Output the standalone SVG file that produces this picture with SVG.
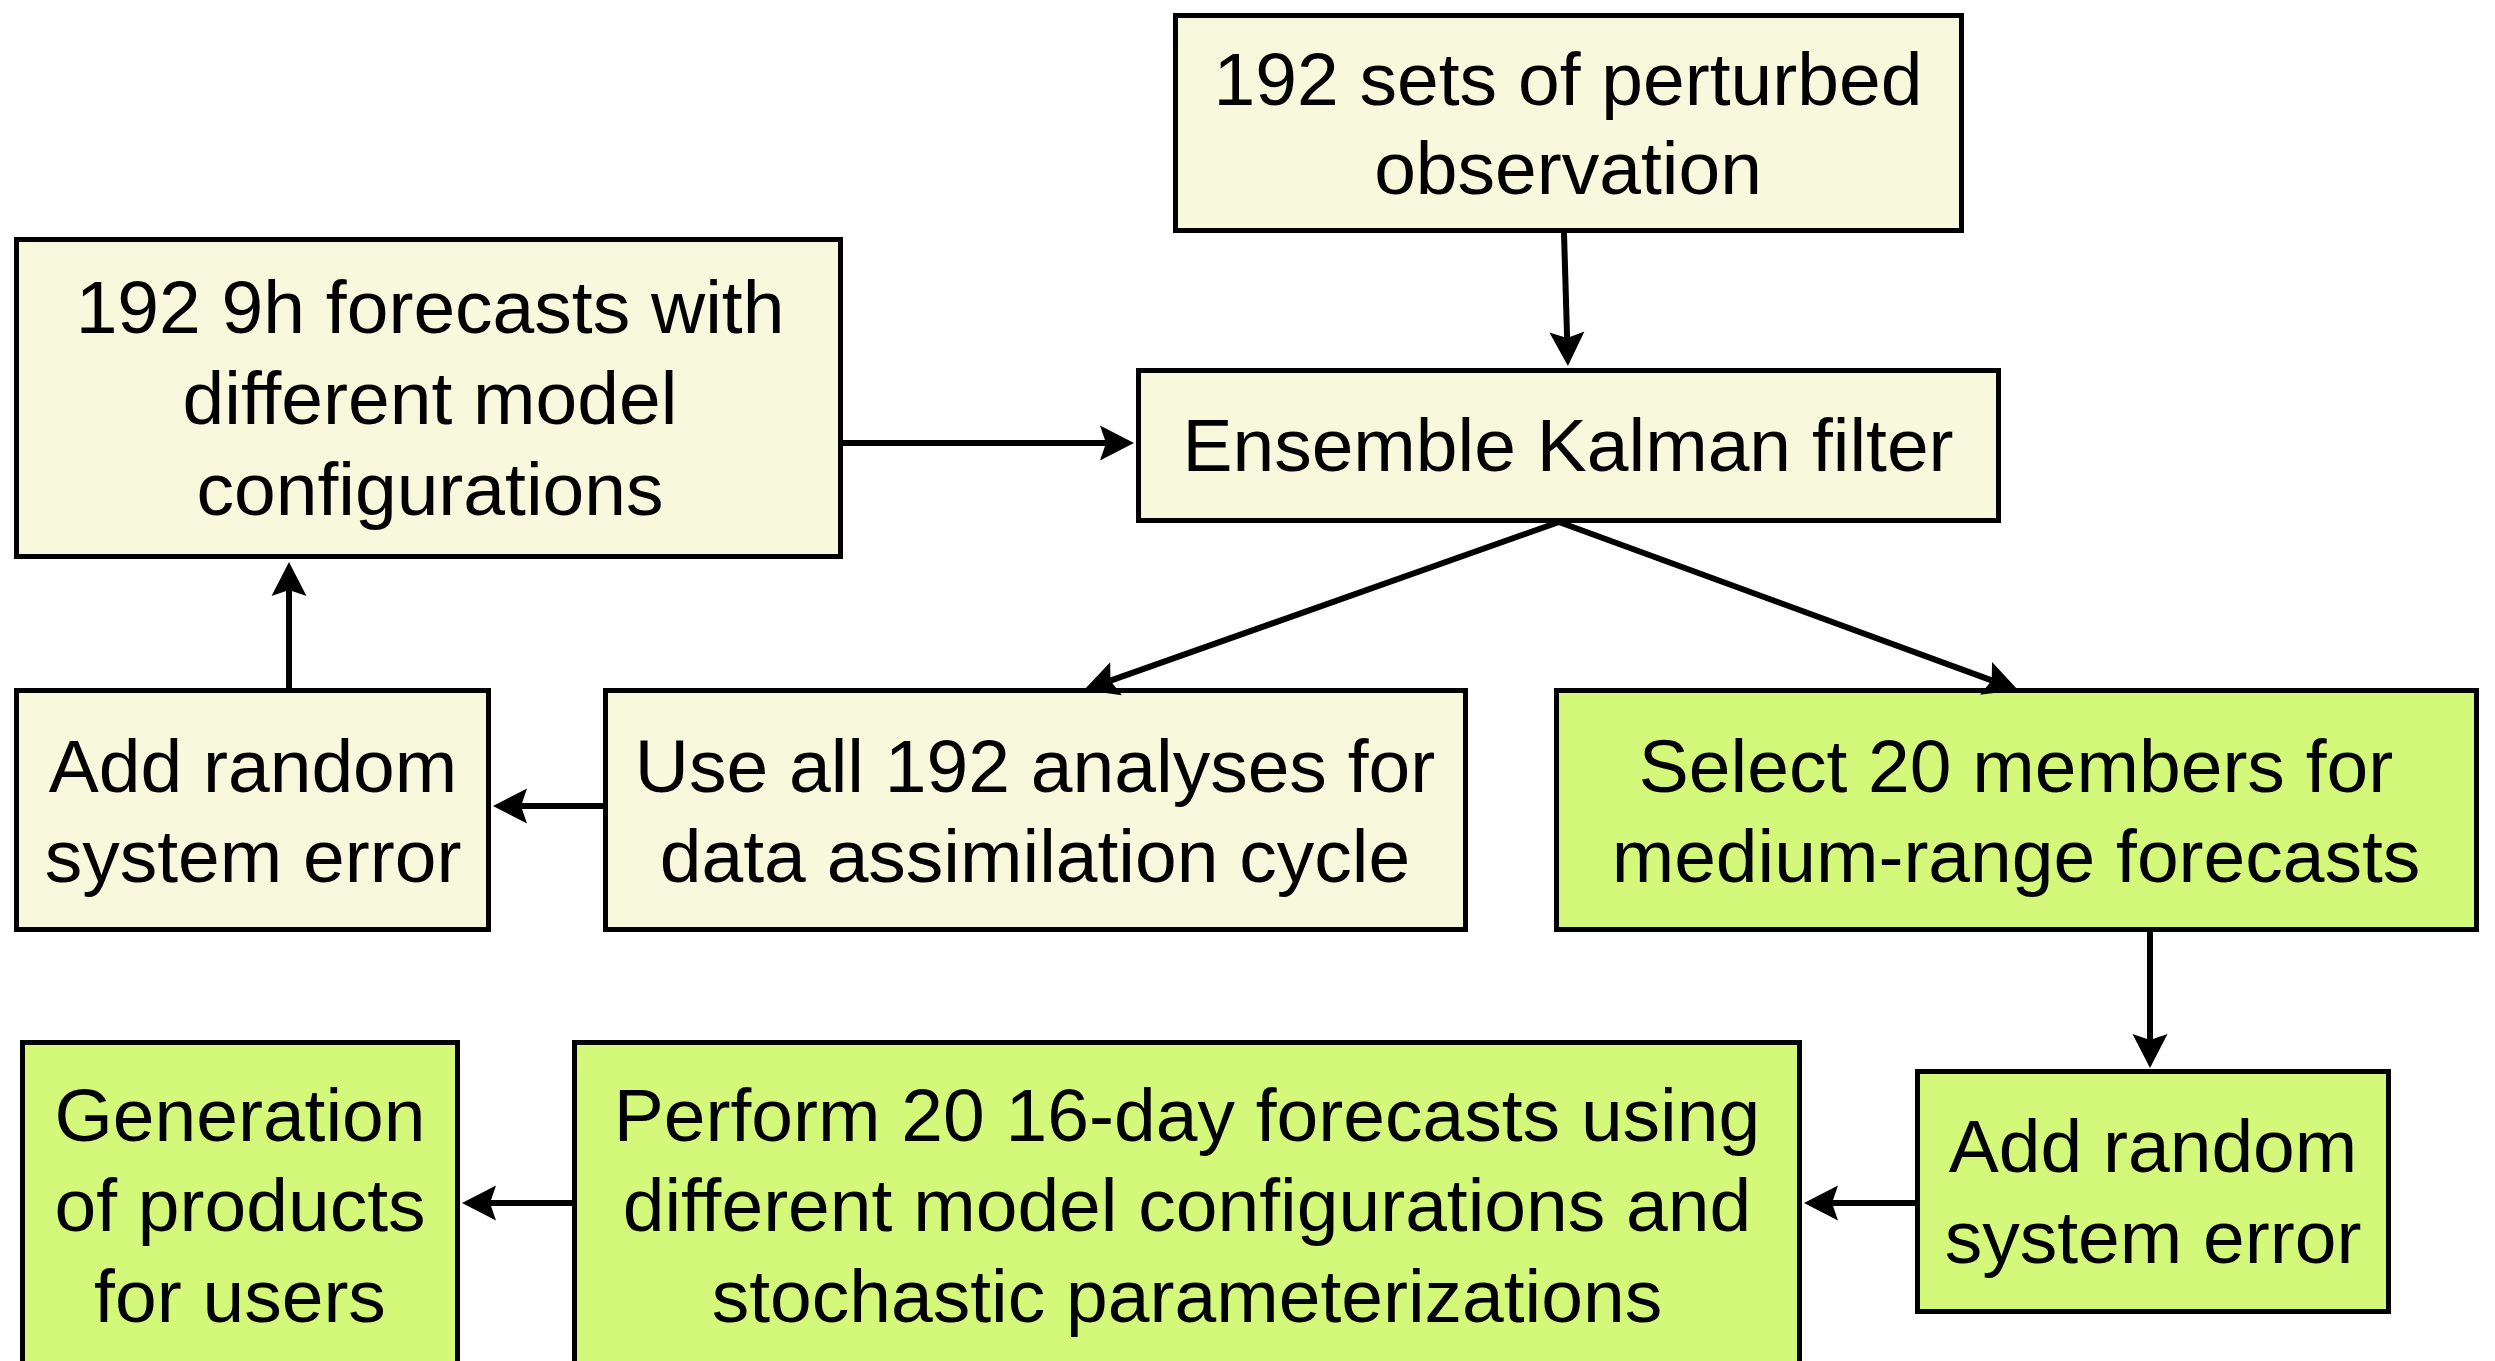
<svg xmlns="http://www.w3.org/2000/svg" width="2495" height="1361" viewBox="0 0 2495 1361">
<defs>
<style>
.box{stroke:#000;stroke-width:5}
.cream{fill:#F7F8DC}
.green{fill:#D4F97A}
.t{font-family:"Liberation Sans",Arial,Helvetica,sans-serif;font-size:75px;fill:#000;text-anchor:middle}
.c{stroke:#000;stroke-width:6;fill:none;marker-end:url(#ah)}
</style>
<marker id="ah" viewBox="0 0 34 36" markerWidth="34" markerHeight="36" refX="6" refY="18" orient="auto" markerUnits="userSpaceOnUse" overflow="visible">
<path d="M0,0.5 L34,18 L0,35.5 L6,18 Z" fill="#000"/>
</marker>
</defs>
<rect x="0" y="0" width="2495" height="1361" fill="#fff"/>

<g id="n-perturbed-obs">
<rect class="box cream" x="1175.5" y="15.5" width="786" height="215"/>
<text class="t" x="1568" y="105">192 sets of perturbed</text>
<text class="t" x="1568" y="194">observation</text>
</g>

<g id="n-9h-forecasts">
<rect class="box cream" x="16.5" y="239.5" width="824" height="317"/>
<text class="t" x="430" y="333">192 9h forecasts with</text>
<text class="t" x="430" y="424">different model</text>
<text class="t" x="430" y="515">configurations</text>
</g>

<g id="n-enkf">
<rect class="box cream" x="1138.5" y="370.5" width="860" height="150"/>
<text class="t" x="1568" y="471">Ensemble Kalman filter</text>
</g>

<g id="n-add-error-left">
<rect class="box cream" x="16.5" y="690.5" width="472" height="239"/>
<text class="t" x="253" y="792">Add random</text>
<text class="t" x="253" y="882">system error</text>
</g>

<g id="n-use-all">
<rect class="box cream" x="605.5" y="690.5" width="860" height="239"/>
<text class="t" x="1035" y="792">Use all 192 analyses for</text>
<text class="t" x="1035" y="882">data assimilation cycle</text>
</g>

<g id="n-select-20">
<rect class="box green" x="1556.5" y="690.5" width="920" height="239"/>
<text class="t" x="2016" y="792">Select 20 members for</text>
<text class="t" x="2016" y="882">medium-range forecasts</text>
</g>

<g id="n-add-error-right">
<rect class="box green" x="1917.5" y="1071.5" width="471" height="240"/>
<text class="t" x="2153" y="1172">Add random</text>
<text class="t" x="2153" y="1263">system error</text>
</g>

<g id="n-perform-20">
<rect class="box green" x="574.5" y="1042.5" width="1225" height="400"/>
<text class="t" x="1187" y="1141">Perform 20 16-day forecasts using</text>
<text class="t" x="1187" y="1231">different model configurations and</text>
<text class="t" x="1187" y="1322">stochastic parameterizations</text>
</g>

<g id="n-products">
<rect class="box green" x="22.5" y="1042.5" width="435" height="400"/>
<text class="t" x="240" y="1141">Generation</text>
<text class="t" x="240" y="1231">of products</text>
<text class="t" x="240" y="1322">for users</text>
</g>

<g id="connectors">
<path class="c" d="M1564,233 L1567.1,338"/>
<path class="c" d="M843,443 L1106,443"/>
<path class="c" d="M1559,522 L1110.4,680.7"/>
<path class="c" d="M1559,522 L1991.7,680.4"/>
<path class="c" d="M603,806 L521,806"/>
<path class="c" d="M289,688 L289,590"/>
<path class="c" d="M2150,932 L2150,1040"/>
<path class="c" d="M1915,1203 L1832,1203"/>
<path class="c" d="M572,1203 L490,1203"/>
</g>
</svg>
